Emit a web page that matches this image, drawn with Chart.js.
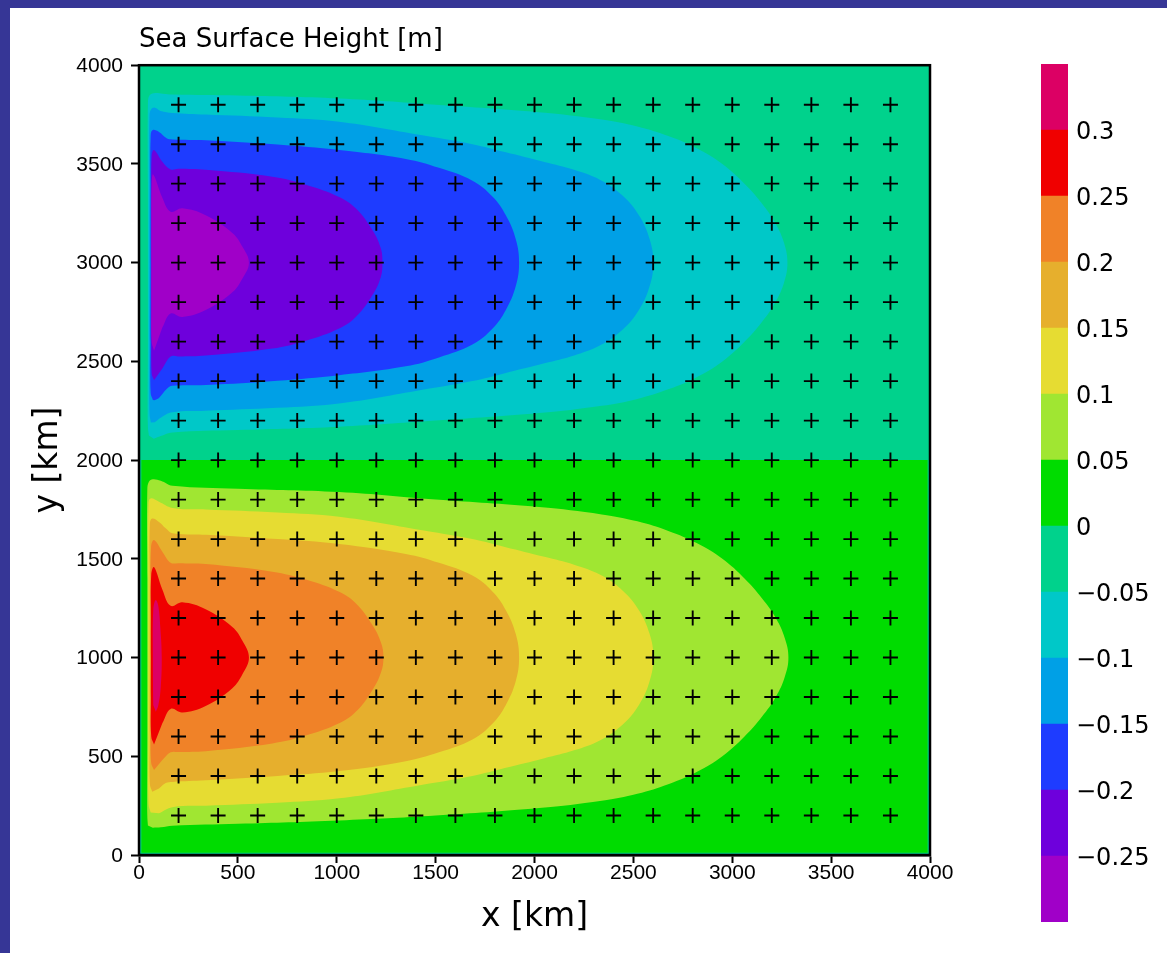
<!DOCTYPE html>
<html>
<head>
<meta charset="utf-8">
<script src="https://cdn.jsdelivr.net/npm/chart.js@4.4.1/dist/chart.umd.min.js"></script>
<style>
  html, body { margin:0; padding:0; background:#363696; overflow:hidden; width:1167px; height:953px; }
  #panel { position:absolute; left:10px; top:8px; width:1157px; height:945px; background:#ffffff; }
  #mainWrap { position:absolute; left:0; top:0; width:960px; height:953px; }
  #barWrap { position:absolute; left:1000px; top:0; width:167px; height:953px; }
</style>
</head>
<body>
<div id="panel"></div>
<div id="mainWrap"><canvas id="main" width="960" height="953"></canvas></div>
<div id="barWrap"><canvas id="cbar" width="167" height="953"></canvas></div>
<script>
// ---------------- data ----------------
const titleText = 'Sea Surface Height [m]';
const xTitle = 'x [km]';
const yTitle = 'y [km]';
const xTicks = [0, 500, 1000, 1500, 2000, 2500, 3000, 3500, 4000];
const xTickLabels = ['0','500','1000','1500','2000','2500','3000','3500','4000'];
const yTicks = [0, 500, 1000, 1500, 2000, 2500, 3000, 3500, 4000];
const yTickLabels = ['0','500','1000','1500','2000','2500','3000','3500','4000'];

// grid point markers (+)
const gridX = [200,400,600,800,1000,1200,1400,1600,1800,2000,2200,2400,2600,2800,3000,3200,3400,3600,3800];
const gridY = [200,400,600,800,1000,1200,1400,1600,1800,2000,2200,2400,2600,2800,3000,3200,3400,3600,3800];

// colour bar: level edges and colours (bottom -> top)
const cbEdges  = [-0.3,-0.25,-0.2,-0.15,-0.1,-0.05,0,0.05,0.1,0.15,0.2,0.25,0.3,0.35];
const cbColors = ['#A000C8','#6E00DC','#1E3CFF','#00A0E6','#00C8C8','#00D28C','#00DC00','#A0E632','#E6DC32','#E6AF2D','#F08228','#F00000','#DC0064'];
const cbTicks  = [-0.25,-0.2,-0.15,-0.1,-0.05,0,0.05,0.1,0.15,0.2,0.25,0.3];
const cbLabels = ['\u22120.25','\u22120.2','\u22120.15','\u22120.1','\u22120.05','0','0.05','0.1','0.15','0.2','0.25','0.3'];

// filled background areas  [x km, y km]
const bgAll   = [[0,0],[4000,0],[4000,4000],[0,4000]];          // -0.05 .. 0
const bgLower = [[12,12],[3988,12],[3988,2000],[12,2000]];       // 0 .. 0.05

// contour outlines [x km, y km]  (upper gyre, negative)
const cNeg05 = [[50,2125],[45,2170],[45,2600],[45,3000],[45,3400],[45,3800],[52,3845],[75,3858],[120,3856],[169,3851],[500,3846],[1012,3831],[1500,3800],[2023,3762],[2340,3725],[2520,3690],[2680,3640],[2820,3580],[2950,3500],[3062,3400],[3150,3300],[3218,3200],[3262,3100],[3279,3000],[3262,2900],[3218,2800],[3150,2700],[3062,2600],[2950,2500],[2820,2420],[2680,2360],[2520,2310],[2340,2275],[2023,2238],[1500,2200],[1012,2169],[500,2152],[169,2140],[110,2122],[75,2108]];
const cNeg10 = [[60,2190],[53,2240],[52,2600],[52,3000],[52,3400],[53,3740],[60,3775],[80,3785],[110,3768],[169,3758],[337,3750],[700,3735],[1012,3713],[1400,3650],[1686,3600],[1850,3560],[2050,3510],[2200,3470],[2330,3420],[2445,3340],[2528,3240],[2582,3120],[2601,3000],[2582,2880],[2528,2760],[2445,2660],[2330,2580],[2200,2530],[2050,2490],[1850,2440],[1686,2400],[1400,2350],[1012,2287],[700,2265],[337,2250],[169,2242],[110,2215],[80,2192]];
const cNeg15 = [[70,2305],[59,2340],[58,2600],[58,3000],[58,3400],[59,3640],[68,3671],[101,3662],[140,3630],[169,3624],[337,3620],[700,3598],[1012,3570],[1349,3525],[1517,3480],[1686,3415],[1787,3335],[1855,3240],[1905,3120],[1922,3000],[1905,2880],[1855,2760],[1787,2665],[1686,2585],[1517,2520],[1349,2475],[1012,2430],[700,2402],[337,2380],[169,2376],[140,2360],[101,2315],[78,2303]];
const cNeg20 = [[76,2405],[64,2440],[63,2700],[63,3000],[63,3300],[64,3540],[76,3570],[118,3511],[160,3472],[200,3475],[337,3470],[674,3435],[843,3395],[1012,3333],[1096,3275],[1180,3165],[1222,3075],[1231,3000],[1222,2925],[1180,2835],[1096,2725],[1012,2667],[843,2605],[674,2565],[337,2530],[200,2525],[160,2525],[118,2464]];
const cNeg25 = [[76,2554],[64,2600],[62,2800],[62,3000],[62,3200],[64,3400],[72,3446],[118,3329],[160,3258],[219,3275],[337,3240],[472,3150],[523,3080],[556,3000],[523,2920],[472,2850],[337,2760],[219,2725],[160,2742],[118,2671]];

// contour outlines (lower gyre, positive)
const cPos05 = [[45,150],[42,200],[42,600],[42,1000],[42,1400],[42,1850],[50,1890],[70,1903],[110,1895],[169,1870],[500,1855],[1012,1838],[1500,1800],[2023,1762],[2340,1725],[2520,1690],[2680,1640],[2820,1580],[2950,1500],[3062,1400],[3150,1300],[3220,1200],[3265,1100],[3284,1000],[3265,900],[3220,800],[3150,700],[3062,600],[2950,500],[2820,420],[2680,360],[2520,310],[2340,275],[2023,238],[1500,200],[1012,175],[500,158],[169,148],[110,140],[70,138]];
const cPos10 = [[59,215],[48,260],[47,600],[47,1000],[47,1400],[48,1780],[59,1806],[101,1789],[169,1758],[337,1750],[700,1735],[1012,1713],[1400,1650],[1686,1600],[1850,1560],[2050,1510],[2200,1470],[2330,1420],[2445,1340],[2528,1240],[2582,1120],[2601,1000],[2582,880],[2528,760],[2445,660],[2330,580],[2200,530],[2050,490],[1850,440],[1686,400],[1400,350],[1012,287],[700,265],[337,250],[169,242],[101,211]];
const cPos15 = [[67,320],[55,360],[54,600],[54,1000],[54,1400],[55,1680],[67,1704],[101,1687],[135,1655],[169,1630],[337,1622],[700,1600],[1012,1575],[1349,1525],[1517,1480],[1686,1415],[1787,1335],[1855,1240],[1905,1120],[1922,1000],[1905,880],[1855,760],[1787,665],[1686,585],[1517,520],[1349,475],[1012,425],[700,400],[337,378],[169,370],[135,365],[101,337]];
const cPos20 = [[76,430],[61,470],[60,700],[60,1000],[60,1300],[61,1560],[76,1595],[118,1536],[160,1480],[200,1478],[337,1474],[674,1435],[843,1395],[1012,1333],[1096,1275],[1180,1165],[1224,1075],[1236,1000],[1224,925],[1180,835],[1096,725],[1012,667],[843,605],[674,565],[337,526],[200,522],[160,520],[118,481]];
const cPos25 = [[76,560],[62,600],[60,800],[60,1000],[60,1200],[62,1420],[76,1458],[118,1345],[160,1262],[219,1280],[337,1245],[472,1155],[523,1085],[556,1000],[523,915],[472,845],[337,755],[219,722],[160,740],[118,667]];
const cPos30 = [[72,760],[70,1000],[72,1240],[84,1291],[97,1265],[108,1150],[115,1000],[110,850],[98,760],[85,725]];

// ---------------- build chart ----------------
const toPts = arr => arr.map(p => ({x: p[0], y: p[1]}));
function area(arr, color, order, tension) {
  return {
    data: toPts(arr), order: order,
    backgroundColor: color, borderColor: 'rgba(0,0,0,0)', borderWidth: 0,
    pointRadius: 0, pointHoverRadius: 0, fill: 'shape', showLine: true,
    tension: tension
  };
}
const markers = [];
for (const gy of gridY) for (const gx of gridX) markers.push({x: gx, y: gy});

const T = 0.4;
const datasets = [
  {data: markers, order: 0, showLine: false, pointStyle: 'cross', pointRadius: 7.5,
   pointBorderWidth: 1.9, pointBorderColor: '#000', pointBackgroundColor: '#000', pointHoverRadius: 7.5},
  area(cPos30, cbColors[12], 1, T),
  area(cPos25, cbColors[11], 2, T),
  area(cPos20, cbColors[10], 3, T),
  area(cPos15, cbColors[9], 4, T),
  area(cPos10, cbColors[8], 5, T),
  area(cPos05, cbColors[7], 6, T),
  area(cNeg25, cbColors[0], 7, T),
  area(cNeg20, cbColors[1], 8, T),
  area(cNeg15, cbColors[2], 9, T),
  area(cNeg10, cbColors[3], 10, T),
  area(cNeg05, cbColors[4], 11, T),
  area(bgLower, cbColors[6], 12, 0),
  area(bgAll, cbColors[5], 13, 0)
];

const frame = {
  id: 'frame',
  afterDatasetsDraw(chart) {
    const a = chart.chartArea, ctx = chart.ctx;
    ctx.save();
    ctx.strokeStyle = '#000'; ctx.lineWidth = 2.5;
    ctx.strokeRect(a.left, a.top, a.right - a.left, a.bottom - a.top);
    ctx.restore();
  }
};

new Chart(document.getElementById('main'), {
  type: 'line',
  data: { datasets },
  plugins: [frame],
  options: {
    responsive: false, animation: false, devicePixelRatio: 1, events: [],
    layout: { padding: { left: 29, right: 30, top: 0, bottom: 0 } },
    plugins: {
      legend: { display: false }, tooltip: { enabled: false },
      title: { display: true, text: titleText, align: 'start', fullSize: false, color: '#000',
               font: { family: 'DejaVu Sans', size: 26, weight: 'normal' }, padding: { top: 25, bottom: 9 } }
    },
    scales: {
      x: {
        type: 'linear', min: 0, max: 4000, position: 'bottom',
        afterBuildTicks: s => { s.ticks = xTicks.map(v => ({ value: v })); },
        ticks: { callback: (v, i) => xTickLabels[i], color: '#000', autoSkip: false, maxRotation: 0,
                 font: { family: 'Liberation Sans', size: 21 }, padding: -2 },
        grid: { drawOnChartArea: false, drawTicks: true, tickLength: 8, tickWidth: 2, tickColor: '#000' },
        border: { display: true, color: '#000', width: 2.5 },
        title: { display: true, text: xTitle, color: '#000', font: { family: 'DejaVu Sans', size: 33 },
                 padding: { top: 0, bottom: 16 } },
        afterFit: s => { s.height = 98; }
      },
      y: {
        type: 'linear', min: 0, max: 4000, position: 'left',
        afterBuildTicks: s => { s.ticks = yTicks.map(v => ({ value: v })); },
        ticks: { callback: (v, i) => yTickLabels[i], color: '#000', autoSkip: false,
                 font: { family: 'Liberation Sans', size: 21 }, padding: 8, labelOffset: 1 },
        grid: { drawOnChartArea: false, drawTicks: true, tickLength: 8, tickWidth: 2, tickColor: '#000' },
        border: { display: true, color: '#000', width: 2.5 },
        title: { display: true, text: yTitle, color: '#000', font: { family: 'DejaVu Sans', size: 33 },
                 padding: { top: 0, bottom: 0 } },
        afterFit: s => { s.width = 110; }
      }
    }
  }
});

// ---------------- colour bar ----------------
const cbDatasets = cbColors.map((c, i) => ({
  data: [[cbEdges[i], cbEdges[i + 1]]], backgroundColor: c, borderWidth: 0,
  barPercentage: 1, categoryPercentage: 1, grouped: false
}));
new Chart(document.getElementById('cbar'), {
  type: 'bar',
  data: { labels: ['SSH'], datasets: cbDatasets },
  options: {
    responsive: false, animation: false, devicePixelRatio: 1, events: [],
    layout: { padding: { left: 41, right: 0, top: 64, bottom: 31 } },
    plugins: { legend: { display: false }, tooltip: { enabled: false } },
    scales: {
      x: { display: false },
      y: {
        position: 'right', min: cbEdges[0], max: cbEdges[cbEdges.length - 1],
        afterBuildTicks: s => { s.ticks = cbTicks.map(v => ({ value: v })); },
        ticks: { callback: (v, i) => cbLabels[i], color: '#000', autoSkip: false,
                 font: { family: 'DejaVu Sans', size: 24 }, padding: 8, labelOffset: 3 },
        grid: { display: false, drawTicks: false },
        border: { display: false },
        afterFit: s => { s.width = 99; }
      }
    }
  }
});
</script>
</body>
</html>
